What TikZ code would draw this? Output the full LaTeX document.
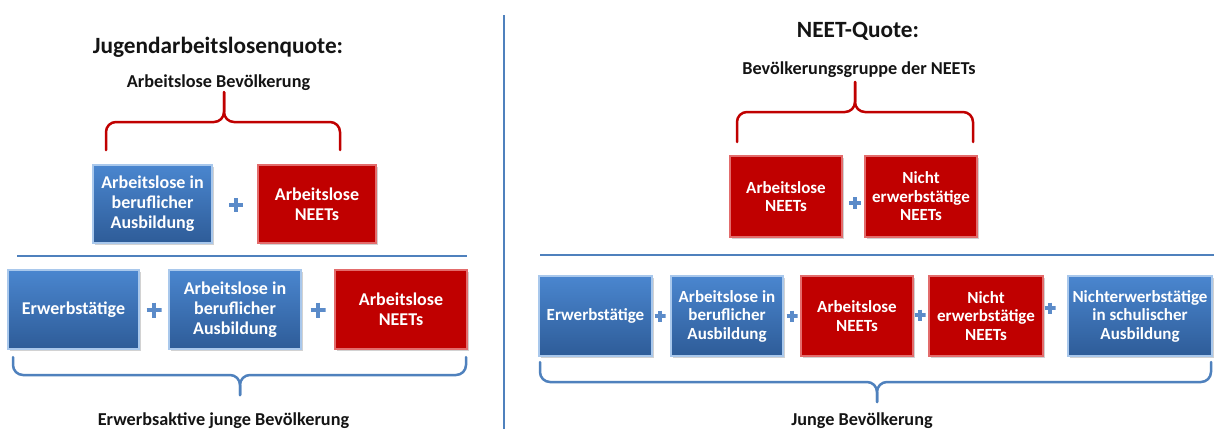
\documentclass[tikz,border=0pt]{standalone}
\usepackage{fontspec}
\setmainfont{Carlito}
\usetikzlibrary{shadows}
\definecolor{bTop}{HTML}{4A86CF}
\definecolor{bBot}{HTML}{2E5C98}
\definecolor{bEdge}{HTML}{A9C8EC}
\definecolor{rFill}{HTML}{C00000}
\definecolor{rEdge}{HTML}{E36C6C}
\definecolor{lineBlue}{HTML}{4F81BD}
\definecolor{plusBlue}{HTML}{5B8BC9}
\definecolor{braceRed}{HTML}{C00000}
\definecolor{txt}{HTML}{141414}
\tikzset{
  box/.style={inner sep=0pt, align=center, text=white, line width=1.2pt,
    drop shadow={shadow xshift=1.5pt, shadow yshift=-2pt, opacity=0.35}},
  bigtxt/.style={font=\bfseries\fontsize{18}{20}\selectfont},
  smalltxt/.style={font=\bfseries\fontsize{17}{18.5}\selectfont},
  bluebox/.style={box, top color=bTop, bottom color=bBot, draw=bEdge},
  redbox/.style={box, fill=rFill, draw=rEdge},
  plussign/.style={inner sep=0pt, minimum size=#1, path picture={
      \draw[plusBlue, line width=0.3*#1]
        (path picture bounding box.north) -- (path picture bounding box.south)
        (path picture bounding box.west) -- (path picture bounding box.east);}},
  plussign/.default=14pt,
  title/.style={text=txt, anchor=base, inner sep=0pt, font=\bfseries\fontsize{23.3}{26}\selectfont},
  subtitle/.style={text=txt, anchor=base, inner sep=0pt, font=\bfseries\fontsize{18.2}{21}\selectfont},
  bracepath/.style={line width=2.5pt, rounded corners=10pt, line cap=round},
  sepline/.style={draw=lineBlue, line width=2pt},
}
\newcommand\drawBrace[7]{%
  \draw[bracepath, #7] (#1,#4) -- (#1,#5) -- (#3,#5) -- (#3,#6);
  \draw[bracepath, #7] (#2,#4) -- (#2,#5) -- (#3,#5) -- (#3,#6);
}
\begin{document}
\begin{tikzpicture}[x=1pt, y=-1pt]
\useasboundingbox[fill=white] (0,0) rectangle (1214,429);

% divider
\coordinate (divT) at (504,15);
\coordinate (divB) at (504,429);
\draw[lineBlue, line width=1.3pt] (divT) -- (divB);

% ---------- left ----------
\node[title] (tL) at (218,53) {Jugendarbeitslosenquote:};
\node[subtitle] (sL) at (218.5,87) {Arbeitslose Bevölkerung};
\drawBrace{106}{340}{224}{150}{122}{92}{braceRed}

\node[bluebox, bigtxt, minimum width=119pt, minimum height=78pt] (la1) at (152.5,204) {Arbeitslose in\\beruflicher\\Ausbildung};
\node[plussign=14pt] (lp0) at (236,205) {};
\node[redbox, bigtxt, minimum width=118pt, minimum height=78pt] (la2) at (317,204) {Arbeitslose\\NEETs};

\coordinate (lh1) at (17,256);
\coordinate (lh2) at (467,256);
\draw[sepline] (lh1) -- (lh2);

\node[bluebox, bigtxt, minimum width=131pt, minimum height=79pt] (lb1) at (73.5,309.5) {Erwerbstätige};
\node[plussign=15pt] (lp1) at (154,310) {};
\node[bluebox, bigtxt, minimum width=132pt, minimum height=79pt] (lb2) at (235,309.5) {Arbeitslose in\\beruflicher\\Ausbildung};
\node[plussign=15pt] (lp2) at (318,310) {};
\node[redbox, bigtxt, minimum width=132pt, minimum height=79pt] (lb3) at (401,309.5) {Arbeitslose\\NEETs};

\drawBrace{13}{466}{240}{357}{375}{395}{lineBlue}
\node[subtitle] (bL) at (223.5,425) {Erwerbsaktive junge Bevölkerung};

% ---------- right ----------
\node[title] (tR) at (858,37) {NEET-Quote:};
\node[subtitle] (sR) at (859,74) {Bevölkerungsgruppe der NEETs};
\drawBrace{737}{973}{855}{142}{112}{82}{braceRed}

\node[redbox, smalltxt, minimum width=112pt, minimum height=81pt] (ra1) at (786,196.5) {Arbeitslose\\NEETs};
\node[plussign=12pt] (rp0) at (855,203) {};
\node[redbox, smalltxt, minimum width=112pt, minimum height=81pt] (ra2) at (921,196.5) {Nicht\\erwerbstätige\\NEETs};

\coordinate (rh1) at (540,255);
\coordinate (rh2) at (1214,255);
\draw[sepline] (rh1) -- (rh2);

\node[bluebox, smalltxt, minimum width=113pt, minimum height=80pt] (rb1) at (595.5,316) {Erwerbstätige};
\node[plussign=11pt] (rp1) at (660,316) {};
\node[bluebox, smalltxt, minimum width=112pt, minimum height=80pt] (rb2) at (727,316) {Arbeitslose in\\beruflicher\\Ausbildung};
\node[plussign=11pt] (rp2) at (792,316) {};
\node[redbox, smalltxt, minimum width=112pt, minimum height=80pt] (rb3) at (857,316) {Arbeitslose\\NEETs};
\node[plussign=11pt] (rp3) at (920,315) {};
\node[redbox, smalltxt, minimum width=114pt, minimum height=80pt] (rb4) at (986,316) {Nicht\\erwerbstätige\\NEETs};
\node[plussign=11pt] (rp4) at (1050,308) {};
\node[bluebox, smalltxt, minimum width=144pt, minimum height=80pt] (rb5) at (1140,316) {Nichterwerbstätige\\in schulischer\\Ausbildung};

\drawBrace{540}{1211}{877}{362}{382}{402}{lineBlue}
\node[subtitle] (bR) at (862,425) {Junge Bevölkerung};
\end{tikzpicture}
\end{document}
